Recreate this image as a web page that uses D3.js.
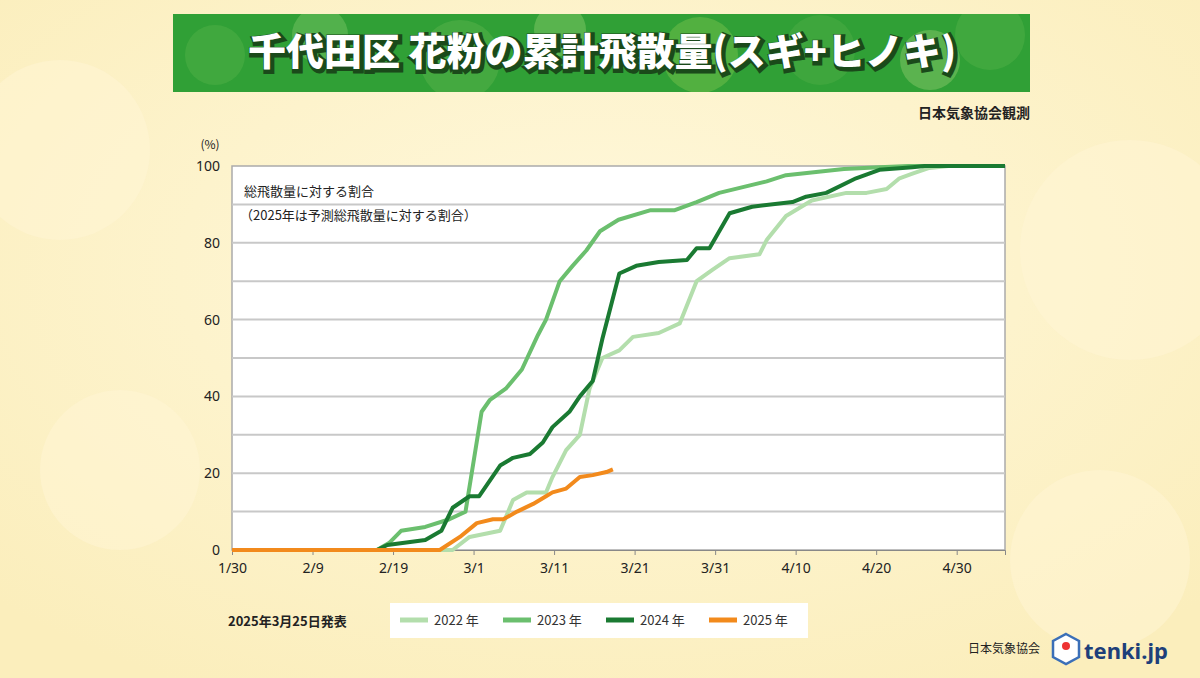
<!DOCTYPE html>
<html><head><meta charset="utf-8">
<script src="https://cdn.jsdelivr.net/npm/d3@7"></script>
<style>body{margin:0;background:#fcf0c4;font-family:"Noto Sans CJK JP","Noto Sans",sans-serif}</style>
</head><body><svg id="c" width="1200" height="678"></svg>
<script>
// days since 1/30
const xTickDays = [0,10,20,30,40,50,60,70,80,90];
const xTickLabels = ["1/30","2/9","2/19","3/1","3/11","3/21","3/31","4/10","4/20","4/30"];
const yTicks = [0,20,40,60,80,100];
const seriesNames = ["2022 年","2023 年","2024 年","2025 年"];
const seriesColors = ["#b3deac","#6bbf6e","#1a7a32","#f28a1c"];
const days2022 = [0,27.4,29.5,33.3,34.9,36.6,39,39.8,41.5,43.2,44.4,46,48.1,49.8,53,55.6,57.7,59.7,61.8,65.5,66.4,68.8,72,76.3,78.8,81.3,82.9,84.5,86.6,89,96];
const vals2022 = [0,0,3.4,5,13,15,15,19,26,30,42,50,52,55.5,56.5,59,70,73,76,77,80.7,87,91,93,93,94,96.8,98,99.5,100,100];
const days2023 = [0,18,19.5,21,24,27,29,31,32,34,36,38,39,40.7,42.3,44,45.7,48,52,55,57.7,60.5,66.4,68.8,76,80.4,84,96];
const vals2023 = [0,0,1.8,5,6,8,10,36,39,42,47,56,60,70,74,78,83,86,88.5,88.5,90.6,93,96,97.6,99.2,99.7,100,100];
const days2024 = [0,18,19.3,24,26,27.4,29.5,30.7,33.3,34.9,37,38.6,39.8,41.9,43.2,44.8,46,48.1,50.2,53,56.5,57.7,59.3,61.8,64.6,69.6,71.3,73.8,77.5,80.4,84.5,86,96];
const vals2024 = [0,0,1.3,2.6,5,11,14,14,22,24,25,28,32,36,40,44,55,72,74,75,75.5,78.6,78.6,87.7,89.4,90.6,92,93,96.8,99,99.7,100,100];
const days2025 = [0,25.8,28.3,30.4,32.4,33.7,35.4,37.4,39,39.8,41.5,43.2,44.8,46.5,47.3];
const vals2025 = [0,0,3.4,7,8,8,10,12,14,15,16,19,19.5,20.3,21];

const svg = d3.select("#c");
const defs = svg.append("defs");
const rg = defs.append("radialGradient").attr("id","bg").attr("cx","50%").attr("cy","40%").attr("r","70%");
rg.append("stop").attr("offset","0%").attr("stop-color","#fff8dc");
rg.append("stop").attr("offset","100%").attr("stop-color","#fbeebc");
svg.append("rect").attr("width",1200).attr("height",678).attr("fill","url(#bg)");
[[60,150,90],[1130,250,110],[120,470,80],[1100,560,90]].forEach(c=>svg.append("circle").attr("cx",c[0]).attr("cy",c[1]).attr("r",c[2]).attr("fill","#fff6d6").attr("opacity",0.5));

// banner
const cp = defs.append("clipPath").attr("id","bc");
cp.append("rect").attr("x",173).attr("y",14).attr("width",857).attr("height",78);
svg.append("rect").attr("x",173).attr("y",14).attr("width",857).attr("height",78).attr("fill","#30a036");
const bg = svg.append("g").attr("clip-path","url(#bc)");
[[215,55,30,"#4fae45"],[320,35,28,"#6fbf5e"],[460,60,40,"#55b049"],[560,30,26,"#7cc463"],[700,55,38,"#6fbd48"],[820,50,35,"#4aab43"],[930,60,30,"#7fc364"],[990,35,35,"#4fae45"]].forEach(c=>
  bg.append("circle").attr("cx",c[0]).attr("cy",c[1]).attr("r",c[2]).attr("fill",c[3]).attr("opacity",0.55));
const title = "千代田区  花粉の累計飛散量(スギ+ヒノキ)";
svg.append("text").attr("x",604).attr("y",67).attr("text-anchor","middle").attr("font-size",38).attr("font-weight",900)
  .attr("fill","#1a4a1a").attr("stroke","#1a4a1a").attr("stroke-width",5).text(title);
svg.append("text").attr("x",602).attr("y",65).attr("text-anchor","middle").attr("font-size",38).attr("font-weight",900)
  .attr("fill","#fff").text(title);
svg.append("text").attr("x",1030).attr("y",118).attr("text-anchor","end").attr("font-size",14).attr("font-weight",700).attr("fill","#222").text("日本気象協会観測");

// plot
const x = d3.scaleLinear().domain([0,96]).range([232,1005]);
const y = d3.scaleLinear().domain([0,100]).range([550,166]);
svg.append("rect").attr("x",232).attr("y",166).attr("width",773).attr("height",384).attr("fill","#fff").attr("stroke","#aaa").attr("stroke-width",1.5);
svg.append("g").selectAll("line").data(d3.range(10,100,10)).join("line")
  .attr("x1",232).attr("x2",1005).attr("y1",d=>y(d)).attr("y2",d=>y(d)).attr("stroke","#c8c8c8").attr("stroke-width",2);
const ya = svg.append("g").attr("transform","translate(232,0)")
  .call(d3.axisLeft(y).tickValues(yTicks).tickSize(0).tickPadding(12));
ya.select(".domain").remove();
ya.selectAll("text").attr("font-size",14).attr("fill","#222").attr("font-family","Noto Sans");
svg.append("text").attr("x",210).attr("y",149).attr("text-anchor","middle").attr("font-size",12).attr("fill","#222").text("(%)");
const xa = svg.append("g").attr("transform","translate(0,550)")
  .call(d3.axisBottom(x).tickValues(xTickDays).tickFormat((d,i)=>xTickLabels[i]).tickSize(5).tickPadding(8));
xa.select(".domain").attr("stroke","#888");
xa.selectAll("line").attr("stroke","#888");
xa.selectAll("text").attr("font-size",14).attr("fill","#222").attr("font-family","Noto Sans");

svg.append("text").attr("x",244).attr("y",196).attr("font-size",13).attr("fill","#222").text("総飛散量に対する割合");
svg.append("text").attr("x",240).attr("y",220).attr("font-size",13).attr("fill","#222").text("（2025年は予測総飛散量に対する割合）");

const line = d3.line().x(d=>x(d[0])).y(d=>y(d[1]));
const ser = [[days2022,vals2022],[days2023,vals2023],[days2024,vals2024],[days2025,vals2025]];
ser.forEach((s,i)=>{
  svg.append("path").attr("d",line(s[0].map((d,j)=>[d,s[1][j]]))).attr("fill","none")
    .attr("stroke",seriesColors[i]).attr("stroke-width",4).attr("stroke-linejoin","round");
});

// legend
svg.append("text").attr("x",228).attr("y",626).attr("font-size",13).attr("font-weight",700).attr("fill","#222").text("2025年3月25日発表");
svg.append("rect").attr("x",390).attr("y",603).attr("width",418).attr("height",35).attr("fill","#fff");
seriesNames.forEach((n,i)=>{
  const lx = 400 + i*103;
  svg.append("line").attr("x1",lx).attr("x2",lx+28).attr("y1",620).attr("y2",620).attr("stroke",seriesColors[i]).attr("stroke-width",5);
  svg.append("text").attr("x",lx+34).attr("y",625).attr("font-size",13).attr("fill","#333").text(n);
});
// footer
svg.append("text").attr("x",1040).attr("y",653).attr("text-anchor","end").attr("font-size",12).attr("fill","#222").text("日本気象協会");
svg.append("path").attr("d","M1066,634 L1079,641 L1079,657 L1066,664 L1053,657 L1053,641 Z").attr("fill","#fff").attr("stroke","#3b6fb8").attr("stroke-width",2.5);
svg.append("circle").attr("cx",1066).attr("cy",646).attr("r",4).attr("fill","#e33");
svg.append("text").attr("x",1084).attr("y",659).attr("font-size",22).attr("font-weight",700).attr("fill","#1d3f7a").attr("font-family","Noto Sans").text("tenki.jp");
</script></body></html>
